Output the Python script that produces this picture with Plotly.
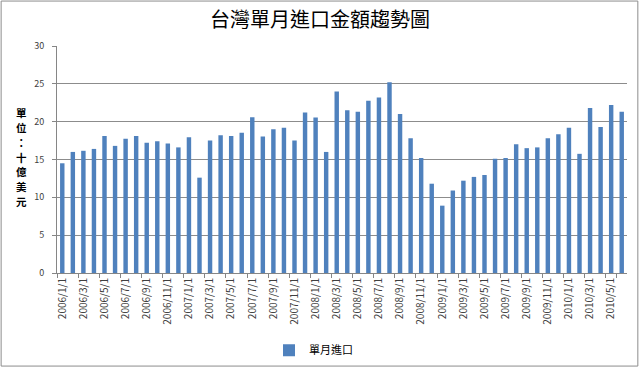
import plotly.graph_objects as go

months = [f"{y}/{m}/1" for y in range(2006, 2011) for m in range(1, 13)][:54]
imports = [14.5, 16.0, 16.15, 16.4, 18.1, 16.8, 17.75, 18.1, 17.2, 17.4, 17.1, 16.6,
           17.95, 12.6, 17.5, 18.2, 18.1, 18.55, 20.6, 18.05, 19.0, 19.2, 17.5, 21.2,
           20.55, 16.0, 24.0, 21.5, 21.3, 22.75, 23.2, 25.2, 21.0, 17.8, 15.2, 11.8,
           8.9, 10.9, 12.2, 12.7, 12.95, 15.1, 15.2, 17.0, 16.5, 16.6, 17.8, 18.35,
           19.2, 15.75, 21.8, 19.3, 22.2, 21.3]
tick_labels = months[::2]
series_name = "單月進口"
title_text = "台灣單月進口金額趨勢圖"
y_title = "單位：十億美元"

fig = go.Figure()
fig.add_trace(go.Bar(x=months, y=imports, name=series_name,
                     marker=dict(color="#4F81BD", line=dict(width=0))))

font_family = "Noto Sans CJK TC, Noto Sans, sans-serif"

# vertical (stacked) axis title, one character per line
plot_h = 368 - 46 - 95
pitch = 14.8
center_px = 157
title_annotations = []
n = len(y_title)
for k, ch in enumerate(y_title):
    py = center_px + (k - (n - 1) / 2) * pitch
    title_annotations.append(dict(
        text="<b>" + ch + "</b>", xref="paper", yref="paper",
        x=-0.062, y=(273 - py) / plot_h, xanchor="center", yanchor="middle",
        showarrow=False, font=dict(size=10.5, color="#000000", family=font_family)))

fig.update_layout(
    width=640, height=368,
    margin=dict(l=57, r=13, t=46, b=95, autoexpand=False),
    paper_bgcolor="white", plot_bgcolor="white",
    bargap=0.58,
    font=dict(family=font_family, color="#404040"),
    title=dict(text=title_text, x=0.5, xanchor="center", y=0.9457, yanchor="middle",
               font=dict(size=20, color="#000000", family=font_family)),
    showlegend=True,
    legend=dict(orientation="h", x=0.45, xanchor="center", y=-0.34, yanchor="middle",
                font=dict(size=11, color="#000000"), bgcolor="rgba(0,0,0,0)",
                itemwidth=30),
    xaxis=dict(type="category", tickvals=tick_labels, ticktext=tick_labels,
               tickangle=-90, tickfont=dict(size=10, color="#404040"),
               ticks="outside", ticklen=4, tickcolor="#868686", tickson="boundaries",
               showline=True, linecolor="#868686", linewidth=1, showgrid=False,
               range=[-0.5, 53.5], automargin=False),
    yaxis=dict(range=[0, 30], dtick=5, tickfont=dict(size=9, color="#404040"),
               ticks="outside", ticklen=4, tickcolor="#868686", ticklabelstandoff=6,
               showline=True, linecolor="#868686", linewidth=1, automargin=False,
               showgrid=True, gridcolor="#8c8c8c", gridwidth=1, zeroline=False),
    annotations=title_annotations,
    shapes=[dict(type="rect", xref="paper", yref="paper",
                 x0=-0.098, x1=1.019, y0=-0.41, y1=1.198,
                 line=dict(color="#8c8c8c", width=1))],
)

fig.write_html("out.html", config={"displayModeBar": False},
               post_script="document.body.style.margin='0';")
